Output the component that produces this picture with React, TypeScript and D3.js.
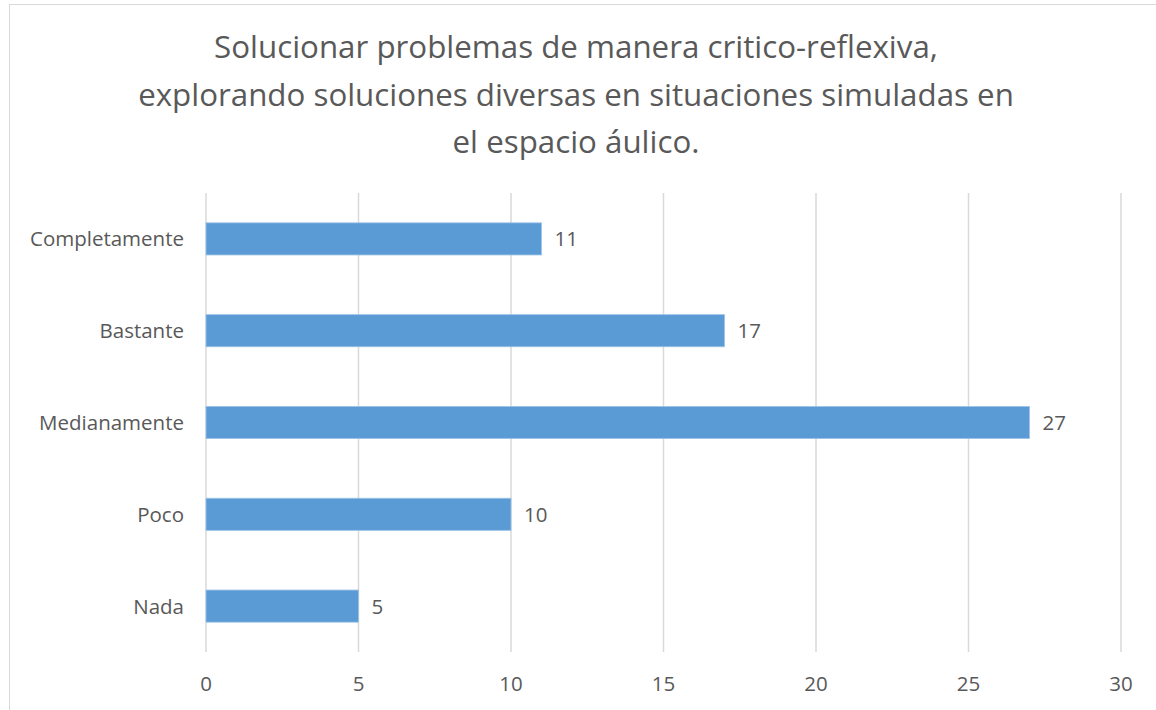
import React from "react";
import * as d3 from "d3";

const categories = ["Completamente", "Bastante", "Medianamente", "Poco", "Nada"];
const values = [11, 17, 27, 10, 5];
const xTicks = [0, 5, 10, 15, 20, 25, 30];
const titleLines = [
  "Solucionar problemas de manera critico-reflexiva,",
  "explorando soluciones diversas en situaciones simuladas en",
  "el espacio áulico.",
];

const W = 1156;
const H = 710;
const FONT = "'Open Sans', 'Noto Sans', sans-serif";
const TEXT = "#595959";

export default function App() {
  const x = d3.scaleLinear().domain([0, 30]).range([206, 1121]);
  const y = d3.scaleBand().domain(categories).range([193, 652]).paddingInner(0.65).paddingOuter(0.325);

  return (
    <svg width={W} height={H} style={{ position: "absolute", left: 0, top: 0 }}>
      <rect x={0} y={0} width={W} height={H} fill="#fff" />
      <rect x={9.5} y={4.5} width={W + 20} height={H + 20} fill="#fff" stroke="#D9D9D9" strokeWidth={1} />
      {titleLines.map((t, i) => (
        <text key={i} x={576} y={58 + i * 47.5} textAnchor="middle" fontFamily={FONT} fontSize={31.3} fill={TEXT}>
          {t}
        </text>
      ))}
      {xTicks.map((t) => (
        <g key={t}>
          <line x1={x(t)} x2={x(t)} y1={193} y2={652} stroke="#D9D9D9" strokeWidth={1.5} />
          <text x={x(t)} y={691} textAnchor="middle" fontFamily={FONT} fontSize={20.5} fill={TEXT}>
            {t}
          </text>
        </g>
      ))}
      {categories.map((c, i) => {
        const yy = y(c)!;
        const bw = y.bandwidth();
        return (
          <g key={c}>
            <rect x={x(0)} y={yy} width={x(values[i]) - x(0)} height={bw} fill="#5B9BD5" stroke="#9DC3E6" strokeWidth={0.8} />
            <text x={x(values[i]) + 13} y={yy + bw / 2 + 7.5} fontFamily={FONT} fontSize={20.5} fill={TEXT}>
              {values[i]}
            </text>
            <text x={184} y={yy + bw / 2 + 7.5} textAnchor="end" fontFamily={FONT} fontSize={20.5} fill={TEXT}>
              {c}
            </text>
          </g>
        );
      })}
    </svg>
  );
}
